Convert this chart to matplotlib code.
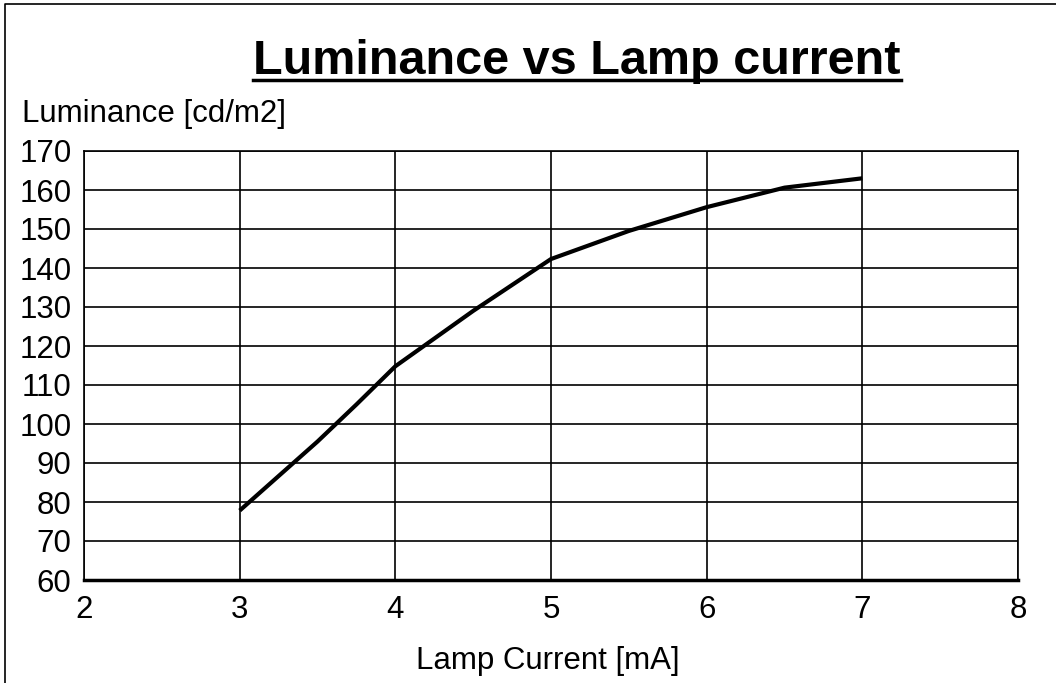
import matplotlib.pyplot as plt
from matplotlib.lines import Line2D

plt.rcParams['font.family'] = ['Liberation Sans', 'DejaVu Sans']

current = [3.0, 3.5, 3.75, 4.0, 4.5, 5.0, 5.5, 6.0, 6.5, 7.0]
luminance = [77.8, 95.5, 105.0, 114.8, 129.0, 142.3, 149.5, 155.6, 160.6, 163.0]

x_ticks = [2, 3, 4, 5, 6, 7, 8]
y_ticks = [60, 70, 80, 90, 100, 110, 120, 130, 140, 150, 160, 170]

fig = plt.figure(figsize=(10.56, 6.83), dpi=100)
ax = fig.add_axes([84 / 1056, 103 / 683, 934 / 1056, 429 / 683])

ax.plot(current, luminance, color='black', linewidth=3.0, solid_capstyle='butt')

ax.set_xlim(2, 8)
ax.set_ylim(60, 170)
ax.set_xticks(x_ticks)
ax.set_yticks(y_ticks)
ax.grid(True, color='black', linewidth=1.2)
ax.set_axisbelow(True)
ax.tick_params(length=0, labelsize=22.5)
ax.tick_params(axis='x', pad=11)
ax.tick_params(axis='y', pad=9)
for s in ax.spines.values():
    s.set_linewidth(1.2)
ax.spines['bottom'].set_linewidth(2.5)

fig.text(22 / 1056, 1 - 122 / 683, 'Luminance [cd/m2]', fontsize=22.5,
         ha='left', va='baseline')
fig.text(548 / 1056, 1 - 669 / 683, 'Lamp Current [mA]', fontsize=22.5,
         ha='center', va='baseline')
title = fig.text(577 / 1056, 1 - 74 / 683, 'Luminance vs Lamp current',
                 fontsize=35, fontweight='bold', ha='center', va='baseline')

# underline the title
fig.canvas.draw()
bb = title.get_window_extent().transformed(fig.transFigure.inverted())
uy = 1 - 80 / 683
fig.add_artist(Line2D([bb.x0, bb.x1], [uy, uy], color='black', linewidth=2.5,
                      transform=fig.transFigure))

# outer frame (top and left edges)
fig.add_artist(Line2D([5 / 1056, 5 / 1056, 1.0], [0.0, 1 - 4 / 683, 1 - 4 / 683],
                      color='black', linewidth=1.2, transform=fig.transFigure))

fig.savefig('out.png', dpi=100)
